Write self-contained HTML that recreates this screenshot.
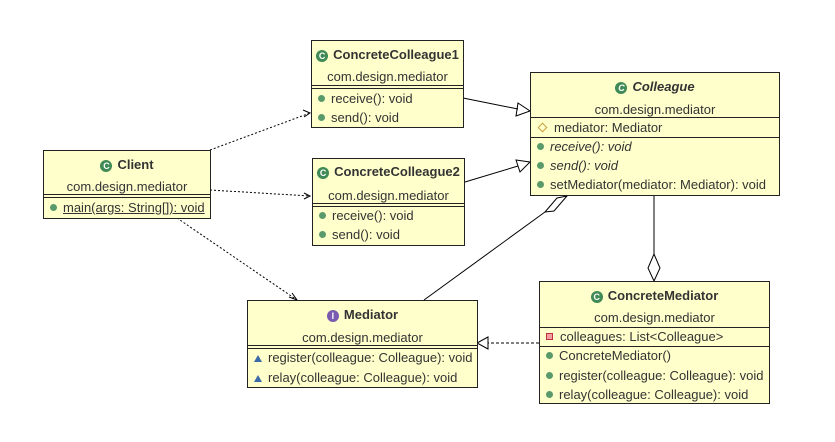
<!DOCTYPE html>
<html><head><meta charset="utf-8"><style>
body{margin:0;width:835px;height:442px;background:#fff;position:relative;overflow:hidden;font-family:"Liberation Sans","Noto Sans CJK SC",sans-serif;font-size:13px;color:#333}
.b{position:absolute;background:#ffffcc;border:1px solid #222;box-sizing:border-box}
.t{position:absolute;left:0;right:0;text-align:center;line-height:15px;white-space:nowrap}
.h{font-weight:bold;font-size:13px}
.r{position:absolute;left:6px;line-height:15px;white-space:nowrap}
.l{position:absolute;left:0;right:0;height:0;border-top:1px solid #222}
.d{display:inline-block;width:7px;height:7px;border-radius:50%;background:#5a9a6a;margin-right:6px;vertical-align:1px}
.ic{display:inline-block;width:12px;height:12px;border-radius:50%;background:#3f8a55;color:#fff;font-size:9px;line-height:12px;text-align:center;margin-right:5px;vertical-align:0}
.tri{display:inline-block;width:0;height:0;border-left:4px solid transparent;border-right:4px solid transparent;border-bottom:7px solid #3a6aa8;margin-right:6px}
svg{position:absolute;left:0;top:0}
</style></head><body>
<svg width="835" height="442">
<g fill="none" stroke="#000" stroke-width="1">
<path d="M210 150 L310 113" stroke-dasharray="2,2"/><path d="M303 110 L310 113 L304 117"/>
<path d="M210 190 L310 196" stroke-dasharray="2,2"/><path d="M304 193 L310 196 L304 199"/>
<path d="M177 218 L297 300" stroke-dasharray="2,2"/><path d="M289 297 L297 300 L292 293"/>
<path d="M463 98 L518 109"/><path d="M518 103 L530 111 L516 116 Z"/>
<path d="M465 182 L518 166"/><path d="M516 160 L530 162 L520 172 Z"/>
<path d="M424 300 L545 212"/><path d="M545 212 L554 211 L567 196 L557 198 Z"/>
<path d="M654 195 L654 254"/><path d="M654 254 L660 268 L654 281 L648 268 Z"/>
<path d="M539 343 L488 343" stroke-dasharray="3,2"/><path d="M488 337 L477 343 L488 349 Z"/>
</g></svg>

<div class="b" style="left:311px;top:40px;width:153px;height:88px">
<div class="t h" style="top:6px"><span class="ic">C</span>ConcreteColleague1</div>
<div class="t" style="top:28px">com.design.mediator</div>
<div class="l" style="top:44px"></div><div class="l" style="top:47px"></div>
<div class="r" style="top:50px"><span class="d"></span>receive(): void</div>
<div class="r" style="top:69px"><span class="d"></span>send(): void</div>
</div>

<div class="b" style="left:312px;top:158px;width:153px;height:88px">
<div class="t h" style="top:5px"><span class="ic">C</span>ConcreteColleague2</div>
<div class="t" style="top:29px">com.design.mediator</div>
<div class="l" style="top:44px"></div><div class="l" style="top:47px"></div>
<div class="r" style="top:49px"><span class="d"></span>receive(): void</div>
<div class="r" style="top:68px"><span class="d"></span>send(): void</div>
</div>

<div class="b" style="left:530px;top:72px;width:250px;height:124px">
<div class="t h" style="top:6px;font-style:italic"><span class="ic">C</span>Colleague</div>
<div class="t" style="top:29px">com.design.mediator</div>
<div class="l" style="top:44px"></div>
<div class="r" style="top:47px"><span style="display:inline-block;width:5px;height:5px;border:1px solid #c8a040;transform:rotate(45deg);margin:0 8px 1px 2px"></span>mediator: Mediator</div>
<div class="l" style="top:64px"></div>
<div class="r" style="top:66px;font-style:italic"><span class="d"></span>receive(): void</div>
<div class="r" style="top:85px;font-style:italic"><span class="d"></span>send(): void</div>
<div class="r" style="top:104px"><span class="d"></span>setMediator(mediator: Mediator): void</div>
</div>

<div class="b" style="left:43px;top:150px;width:168px;height:69px">
<div class="t h" style="top:6px"><span class="ic">C</span>Client</div>
<div class="t" style="top:28px">com.design.mediator</div>
<div class="l" style="top:43px"></div><div class="l" style="top:46px"></div>
<div class="r" style="top:49px;text-decoration:underline"><span class="d"></span>main(args: String[]): void</div>
</div>

<div class="b" style="left:247px;top:300px;width:231px;height:88px">
<div class="t h" style="top:6px"><span class="ic" style="background:#7a5ab0">I</span>Mediator</div>
<div class="t" style="top:29px">com.design.mediator</div>
<div class="l" style="top:44px"></div><div class="l" style="top:47px"></div>
<div class="r" style="top:49px"><span class="tri"></span>register(colleague: Colleague): void</div>
<div class="r" style="top:69px"><span class="tri"></span>relay(colleague: Colleague): void</div>
</div>

<div class="b" style="left:539px;top:281px;width:231px;height:123px">
<div class="t h" style="top:6px"><span class="ic">C</span>ConcreteMediator</div>
<div class="t" style="top:28px">com.design.mediator</div>
<div class="l" style="top:45px"></div>
<div class="r" style="top:47px"><span style="display:inline-block;width:5px;height:5px;border:1px solid #c03040;background:#f0a0a0;margin-right:7px;vertical-align:1px"></span>colleagues: List&lt;Colleague&gt;</div>
<div class="l" style="top:64px"></div>
<div class="r" style="top:66px"><span class="d"></span>ConcreteMediator()</div>
<div class="r" style="top:86px"><span class="d"></span>register(colleague: Colleague): void</div>
<div class="r" style="top:105px"><span class="d"></span>relay(colleague: Colleague): void</div>
</div>
</body></html>
